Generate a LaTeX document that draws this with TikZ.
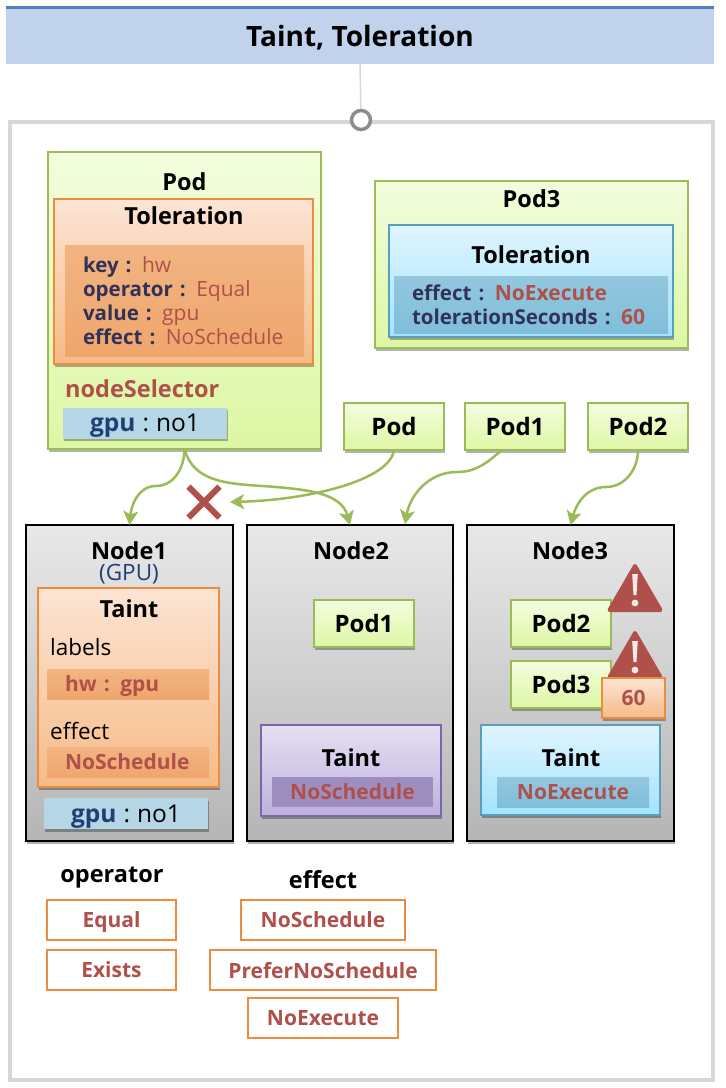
\documentclass[tikz,border=0pt]{standalone}
\usepackage{fontspec}
\setmainfont{Open Sans}
\usepackage{xcolor}
\usetikzlibrary{
  arrows.meta,
  positioning,
  shadows,
  shapes.misc
}
\definecolor{podgreen}{RGB}{155,187,89}
\definecolor{podtop}{RGB}{243,253,222}
\definecolor{podbot}{RGB}{221,247,164}
\definecolor{tolorange}{RGB}{237,139,62}
\definecolor{orangetop}{RGB}{252,228,212}
\definecolor{orangebot}{RGB}{246,187,134}
\definecolor{orangebartop}{RGB}{241,180,130}
\definecolor{orangebarbot}{RGB}{239,166,108}
\definecolor{tolblue}{RGB}{88,158,190}
\definecolor{bluetop}{RGB}{223,245,254}
\definecolor{bluebot}{RGB}{164,227,253}
\definecolor{bluebartop}{RGB}{147,199,221}
\definecolor{bluebarbot}{RGB}{127,190,220}
\definecolor{taintviolet}{RGB}{126,100,168}
\definecolor{violettop}{RGB}{230,224,242}
\definecolor{violetbot}{RGB}{189,176,221}
\definecolor{violetbarc}{RGB}{158,141,191}
\definecolor{selectblue}{RGB}{181,214,228}
\definecolor{alertred}{RGB}{176,80,74}
\definecolor{keyink}{RGB}{50,50,88}
\definecolor{gpuink}{RGB}{31,63,119}
\definecolor{framegray}{RGB}{215,215,215}
\definecolor{titleblue}{RGB}{192,210,236}
\definecolor{rulerblue}{RGB}{79,127,189}
\tikzset{
  softshadow/.style={drop shadow={shadow xshift=1pt,shadow yshift=-2.5pt,opacity=.3,fill=black}},
  head/.style={font=\fontsize{23.5}{28}\selectfont\bfseries,inner sep=0pt,text depth=0pt,yshift=-1pt},
  plain/.style={font=\fontsize{22.5}{27}\selectfont,inner sep=0pt,text depth=0pt},
  podbox/.style={draw=podgreen,line width=1.6pt,top color=podtop,bottom color=podbot,
    softshadow,inner sep=0pt,outer sep=0pt,align=center},
  podsmall/.style={podbox,minimum width=100pt,minimum height=47pt,text depth=0pt,
    font=\fontsize{24}{28}\selectfont\bfseries},
  orangebox/.style={draw=tolorange,line width=1.6pt,top color=orangetop,bottom color=orangebot,
    softshadow,inner sep=0pt,outer sep=0pt},
  bluebox/.style={draw=tolblue,line width=1.6pt,top color=bluetop,bottom color=bluebot,
    softshadow,inner sep=0pt,outer sep=0pt},
  violetbox/.style={draw=taintviolet,line width=1.6pt,top color=violettop,bottom color=violetbot,
    softshadow,inner sep=0pt,outer sep=0pt},
  nodebox/.style={draw=black,line width=1.4pt,top color=black!9,bottom color=black!29,
    softshadow,inner sep=0pt,outer sep=0pt},
  orangebar/.style={top color=orangebartop,bottom color=orangebarbot,inner sep=0pt,outer sep=0pt},
  bluebar/.style={top color=bluebartop,bottom color=bluebarbot,inner sep=0pt,outer sep=0pt},
  violetbar/.style={fill=violetbarc,inner sep=0pt,outer sep=0pt},
  barlabel/.style={text=alertred,text depth=0pt,font=\fontsize{21}{25}\selectfont\bfseries},
  keylines/.style={align=left,font=\fontsize{21}{24}\selectfont},
  selectbar/.style={fill=selectblue,softshadow,minimum width=164pt,minimum height=31pt,
    inner sep=0pt,outer sep=0pt,text depth=0pt,font=\fontsize{24.5}{28}\selectfont},
  valuebox/.style={draw=tolorange,line width=1.2pt,fill=white,minimum height=40pt,inner sep=0pt,outer sep=0pt,
    text depth=0pt,text=alertred,font=\fontsize{21}{25}\selectfont\bfseries},
  podflow/.style={-{Stealth[length=14pt,width=15pt,inset=3.5pt]},line width=2.5pt,draw=podgreen}
}
\newcommand{\Kw}[1]{\textcolor{keyink}{\fontsize{20.5}{24}\selectfont\textbf{#1}}}
\newcommand{\Vl}[1]{\textcolor{alertred}{#1}}
\newcommand{\Gp}{\textcolor{gpuink}{\textbf{gpu}}\hspace{7pt}:\hspace{7pt}no1}
\newcommand{\Warn}[2]{%
  \fill[alertred,line join=round,draw=alertred,line width=4pt]
    (#1,#2+2) -- (#1+25.5,#2+46) -- (#1-25.5,#2+46) -- cycle;
  \fill[white!88!alertred] (#1-2.8,#2+10) -- (#1+2.8,#2+10) -- (#1+1.5,#2+31) -- (#1-1.5,#2+31) -- cycle;
  \fill[white!88!alertred] (#1,#2+39) circle (3.4pt);
}
\begin{document}
\begin{tikzpicture}[x=1pt,y=-1pt]
  \useasboundingbox[fill=white] (0,0) rectangle (726,1088);
  % title and frame
  \node[fill=titleblue,minimum width=708pt,minimum height=56pt,inner sep=0pt,outer sep=0pt,text depth=0pt,
    font=\fontsize{28}{33}\selectfont\bfseries] (title) at (360,35.5) {\raisebox{-1pt}{Taint, Toleration}};
  \draw[rulerblue,line width=3.5pt] (title.north west) -- (title.north east);
  \draw[framegray,line width=4.5pt,fill=white] (10,122) rectangle (713,1080);
  \node[circle,draw=black!45,line width=3.5pt,fill=white,minimum size=19pt,inner sep=0pt] (knob) at (361,120) {};
  \draw[framegray,line width=1.5pt] (title) ++(0,27.5) -- (knob);

  % the pod with its toleration
  \node[podbox,minimum width=273pt,minimum height=297pt] (pod) at (184.5,300.5) {};
  \node[head] (podname) at (184.5,181) {Pod};
  \node[orangebox,minimum width=259pt,minimum height=165pt] (tol) at (183.5,281.5) {};
  \node[head] (tolname) at (184,215) {Toleration};
  \node[orangebar,minimum width=239pt,minimum height=111pt,text width=203pt,keylines] (tolbar) at (184.5,300.5)
    {\Kw{key :} \Vl{hw}\\ \Kw{operator :} \Vl{Equal}\\ \Kw{value :} \Vl{gpu}\\ \Kw{effect :} \Vl{NoSchedule}};
  \node[head,text=alertred,anchor=west] (selname) at (65,388) {nodeSelector};
  \node[selectbar] (podsel) at (145,423) {\Gp};

  % pod3 with its toleration
  \node[podbox,minimum width=313pt,minimum height=167pt] (podthree) at (531.5,264.5) {};
  \node[head] (podthreename) at (531.5,198) {Pod3};
  \node[bluebox,minimum width=284pt,minimum height=112pt] (tolthree) at (531,281) {};
  \node[head] (tolthreename) at (531,254) {Toleration};
  \node[bluebar,minimum width=274pt,minimum height=57pt,text width=238pt,keylines] (tolthreebar) at (531,304.5)
    {\Kw{effect :} \Vl{\textbf{NoExecute}}\\ \Kw{tolerationSeconds :} \Vl{\textbf{60}}};

  % pods to schedule
  \node[podsmall] (podq) at (394,426.5) {Pod};
  \node[podsmall,right=21pt of podq] (podone) {Pod1};
  \node[podsmall,right=23pt of podone] (podtwo) {Pod2};

  % nodes
  \node[nodebox,minimum width=207pt,minimum height=316pt] (nodeone) at (129.5,683) {};
  \node[nodebox,minimum width=206pt,minimum height=316pt,right=14pt of nodeone] (nodetwo) {};
  \node[nodebox,minimum width=207pt,minimum height=316pt,right=14pt of nodetwo] (nodethree) {};
  \node[head] (nodeonename) at (129,550) {Node1};
  \node[plain,text=gpuink] (gpuname) at (129,572) {(GPU)};
  \node[head] (nodetwoname) at (351,550) {Node2};
  \node[head] (nodethreename) at (570,550) {Node3};

  % node1
  \node[orangebox,minimum width=181pt,minimum height=199pt] (taintone) at (128.5,687.5) {};
  \node[head] (taintonename) at (129,608) {Taint};
  \node[plain,anchor=west] (labelsname) at (50,647) {labels};
  \node[orangebar,minimum width=162pt,minimum height=30pt,text width=126pt,align=left,barlabel] (labelsbar) at (128,684) {hw : gpu};
  \node[plain,anchor=west] (effectname) at (50,731) {effect};
  \node[orangebar,minimum width=162pt,minimum height=30pt,text width=126pt,align=left,barlabel] (effectbar) at (128,762) {NoSchedule};
  \node[selectbar] (nodesel) at (126,813.5) {\Gp};

  % node2
  \node[podsmall] (podoneon) at (364,623.5) {Pod1};
  \node[violetbox,minimum width=180pt,minimum height=91pt] (tainttwo) at (351,770.5) {};
  \node[head] (tainttwoname) at (351,757) {Taint};
  \node[violetbar,minimum width=161pt,minimum height=30pt,barlabel] (tainttwobar) at (352.5,792) {NoSchedule};

  % node3
  \node[podsmall] (podtwoon) at (561,623.5) {Pod2};
  \Warn{635}{564}
  \node[podsmall,below=14pt of podtwoon] (podthreeon) {Pod3};
  \Warn{635}{631}
  \node[orangebox,minimum width=63pt,minimum height=40pt,barlabel] (sixty) at (633.5,698) {60};
  \node[bluebox,minimum width=179pt,minimum height=90pt] (taintthree) at (570.5,770) {};
  \node[head] (taintthreename) at (571,757) {Taint};
  \node[bluebar,minimum width=152pt,minimum height=30pt,barlabel] (taintthreebar) at (573,792) {NoExecute};

  % legend
  \node[head] (opname) at (112,874) {operator};
  \node[valuebox,minimum width=129pt] (equal) at (111.5,920) {Equal};
  \node[valuebox,minimum width=129pt,below=10pt of equal] (exists) {Exists};
  \node[head] (effname) at (323,878) {effect};
  \node[valuebox,minimum width=164pt] (nosched) at (323,920) {NoSchedule};
  \node[valuebox,minimum width=226pt,below=10pt of nosched] (prefer) {PreferNoSchedule};
  \node[valuebox,minimum width=150pt,below=8pt of prefer] (noexec) {NoExecute};

  % flows
  \node[cross out,draw=alertred,line width=6pt,minimum size=25pt,inner sep=0pt] (stop) at (204,502) {};
  \coordinate (bendone) at (156,486);
  \coordinate (bendtwo) at (276,487);
  \coordinate (stoptip) at (230,502);
  \coordinate (podonefoot) at (502,450);
  \coordinate (bendthree) at (457,472);
  \coordinate (nodetwotip) at (405,524);
  \coordinate (bendfour) at (606,487);
  \draw[podflow] (pod.south) to[out=-90,in=0] (bendone) to[out=180,in=85] (nodeone.north);
  \draw[podflow] (pod.south) to[out=-75,in=175] (bendtwo) to[out=-5,in=105] (nodetwo.north);
  \draw[podflow] (podq.south) .. controls (390,480) and (310,500) .. (stoptip);
  \draw[podflow] (podonefoot) to[out=-140,in=0] (bendthree) to[out=180,in=80] (nodetwotip);
  \draw[podflow] (podtwo.south) to[out=-90,in=0] (bendfour) to[out=180,in=75] (nodethree.north);
\end{tikzpicture}
\end{document}
